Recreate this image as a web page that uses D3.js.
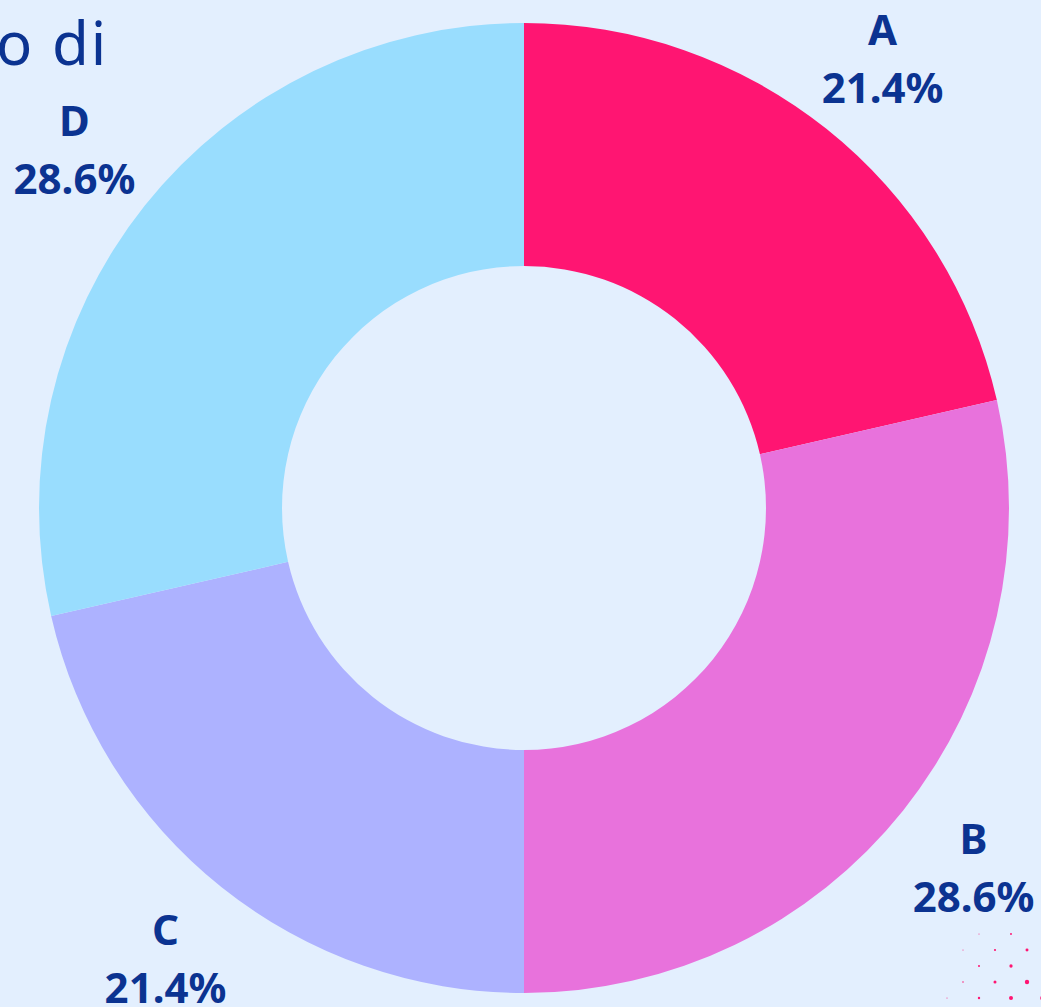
<!DOCTYPE html>
<html>
<head>
<meta charset="utf-8">
<script src="https://cdn.jsdelivr.net/npm/d3@7"></script>
<style>
  html, body { margin: 0; padding: 0; background: #e3effe; overflow: hidden; }
  svg { display: block; }
</style>
</head>
<body>
<div id="chart"></div>
<script>
var categories = ["A", "B", "C", "D"];
var values = [3, 4, 3, 4];
var colors = ["#ff1572", "#e872dc", "#adb2ff", "#99ddfe"];

var width = 1041, height = 1007;
var cx = 524, cy = 508;
var outerR = 485, innerR = 242, labelR = 575;

var svg = d3.select("#chart").append("svg")
    .attr("width", width)
    .attr("height", height);

svg.append("rect")
    .attr("width", width)
    .attr("height", height)
    .attr("fill", "#e3effe");

// title, cut off at the top left
svg.append("text")
    .attr("x", -4)
    .attr("y", 65)
    .style("font-family", "'Noto Sans', sans-serif")
    .style("font-size", "60px")
    .style("letter-spacing", "2px")
    .style("fill", "#0b3391")
    .text("o di");

// decorative dots bottom right
var dots = svg.append("g");
for (var r = 0; r < 5; r++) {
    for (var k = 0; k < 4; k++) {
        var px = 1043 - 16 * (r % 2) - 32 * k;
        var py = 998 - 16 * r;
        var dist = Math.sqrt(Math.pow(1043 - px, 2) + Math.pow(1000 - py, 2));
        if (dist > 100) continue;
        var size = Math.max(0.5, 2.8 - dist * 0.025);
        dots.append("circle")
            .attr("cx", px)
            .attr("cy", py)
            .attr("r", size)
            .attr("fill", "#ff1572");
    }
}

var total = d3.sum(values);
var data = categories.map(function(d, i) {
    return { name: d, value: values[i], color: colors[i] };
});

var pie = d3.pie()
    .sort(null)
    .value(function(d) { return d.value; });

var arc = d3.arc()
    .innerRadius(innerR)
    .outerRadius(outerR);

var labelArc = d3.arc()
    .innerRadius(labelR)
    .outerRadius(labelR);

var g = svg.append("g")
    .attr("transform", "translate(" + cx + "," + cy + ")");

var arcs = pie(data);

g.selectAll("path.slice")
    .data(arcs)
    .enter().append("path")
    .attr("class", "slice")
    .attr("d", arc)
    .attr("fill", function(d) { return d.data.color; });

var labels = g.selectAll("g.label")
    .data(arcs)
    .enter().append("g")
    .attr("class", "label")
    .attr("transform", function(d) {
        return "translate(" + labelArc.centroid(d) + ")";
    })
    .style("font-family", "'Noto Sans', sans-serif")
    .style("font-weight", "bold")
    .style("font-size", "42px")
    .style("fill", "#0b3391")
    .attr("text-anchor", "middle");

labels.append("text")
    .attr("y", -13)
    .text(function(d) { return d.data.name; });

labels.append("text")
    .attr("y", 45)
    .text(function(d) {
        return (d.data.value / total * 100).toFixed(1) + "%";
    });
</script>
</body>
</html>
